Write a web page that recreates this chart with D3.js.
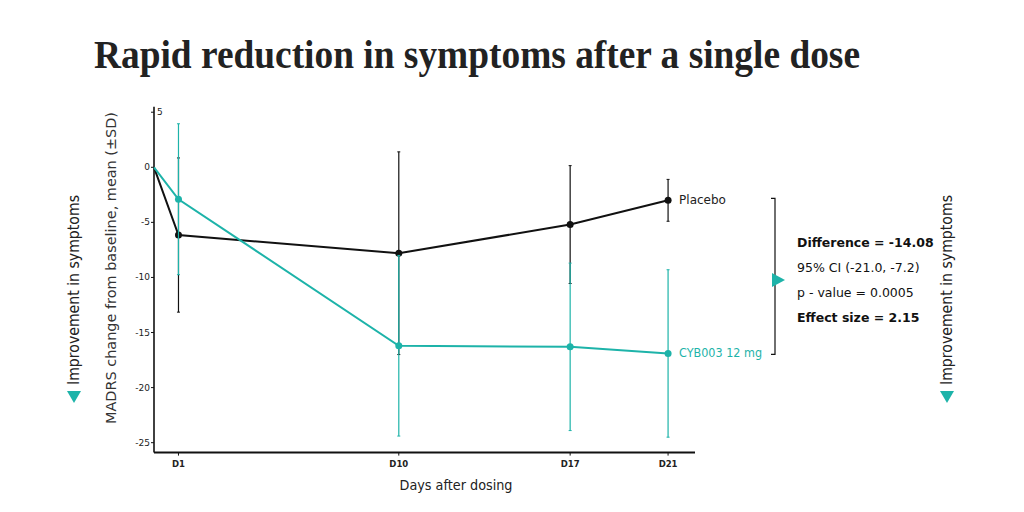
<!DOCTYPE html>
<html>
<head>
<meta charset="utf-8">
<script src="https://cdn.jsdelivr.net/npm/d3@7"></script>
<style>
  body { margin: 0; background: #fff; }
  text { font-family: "DejaVu Sans", "Noto Sans", sans-serif; }
</style>
</head>
<body>
<div id="viz"></div>
<script>
// data
let days = [0, 1, 10, 17, 21]
let dayLabels = ["", "D1", "D10", "D17", "D21"]
let yTicks = [5, 0, -5, -10, -15, -20, -25]

let placeboMean = [0, -6.15, -7.8, -5.2, -3.0]
let placeboSD = [null, 7.0, 9.2, 5.35, 1.9]
let cybMean = [0, -2.9, -16.2, -16.3, -16.9]
let cybSD = [null, 6.85, 8.2, 7.6, 7.6]

let stats = [
  {t: "Difference = -14.08", bold: true},
  {t: "95% CI (-21.0, -7.2)", bold: false},
  {t: "p - value = 0.0005", bold: false},
  {t: "Effect size = 2.15", bold: true}
]

let teal = "#1db3a9"

const svg = d3.select('#viz')
  .append('svg')
  .attr('width', 1024)
  .attr('height', 512)

// title
svg.append('text')
  .attr('x', 94)
  .attr('y', 68)
  .style('font-family', '"Liberation Serif", "DejaVu Serif", serif')
  .attr('font-weight', 'bold')
  .attr('font-size', 40)
  .attr('fill', '#222')
  .attr('textLength', 766)
  .attr('lengthAdjust', 'spacingAndGlyphs')
  .text('Rapid reduction in symptoms after a single dose')

let xScale = d3.scaleLinear().domain([0, 22.1]).range([154, 695])
let yScale = d3.scaleLinear().domain([-25.9, 5.5]).range([452.6, 106.7])

// axes
svg.append('line')
  .attr('x1', xScale(0)).attr('x2', xScale(0))
  .attr('y1', yScale(5.5)).attr('y2', yScale(-25.9))
  .attr('stroke', '#111').attr('stroke-width', 1.6)
svg.append('line')
  .attr('x1', xScale(0)).attr('x2', xScale(22.1))
  .attr('y1', yScale(-25.9)).attr('y2', yScale(-25.9))
  .attr('stroke', '#111').attr('stroke-width', 2)

let yt = svg.append('g')
yt.selectAll('line')
  .data(yTicks)
  .join('line')
  .attr('x1', xScale(0) - 3).attr('x2', xScale(0))
  .attr('y1', d => yScale(d)).attr('y2', d => yScale(d))
  .attr('stroke', '#111').attr('stroke-width', 1)
yt.selectAll('text')
  .data(yTicks)
  .join('text')
  .attr('x', d => d == 5 ? xScale(0) + 3 : xScale(0) - 4)
  .attr('y', d => yScale(d) + 3)
  .attr('text-anchor', d => d == 5 ? 'start' : 'end')
  .attr('font-size', 9)
  .attr('fill', '#222')
  .text(d => d)

let xt = svg.append('g')
xt.selectAll('line')
  .data(days.slice(1))
  .join('line')
  .attr('x1', d => xScale(d)).attr('x2', d => xScale(d))
  .attr('y1', yScale(-25.9)).attr('y2', yScale(-25.9) + 3)
  .attr('stroke', '#111').attr('stroke-width', 1)
xt.selectAll('text')
  .data(days.slice(1))
  .join('text')
  .attr('x', d => xScale(d))
  .attr('y', yScale(-25.9) + 14)
  .attr('text-anchor', 'middle')
  .attr('font-size', 8.5)
  .attr('font-weight', 'bold')
  .attr('fill', '#222')
  .text((d, i) => dayLabels[i + 1])

// axis titles
svg.append('text')
  .attr('x', 456).attr('y', 490)
  .attr('text-anchor', 'middle')
  .attr('font-size', 13.5)
  .attr('fill', '#222')
  .attr('textLength', 113)
  .attr('lengthAdjust', 'spacingAndGlyphs')
  .text('Days after dosing')
svg.append('text')
  .attr('transform', 'translate(116,268) rotate(-90)')
  .attr('text-anchor', 'middle')
  .attr('font-size', 14.5)
  .attr('fill', '#333')
  .attr('textLength', 312)
  .attr('lengthAdjust', 'spacingAndGlyphs')
  .text('MADRS change from baseline, mean (\u00b1SD)')

// improvement labels + arrows
function improvement(x) {
  svg.append('text')
    .attr('transform', `translate(${x + 5},290) rotate(-90)`)
    .attr('text-anchor', 'middle')
    .attr('font-size', 15)
    .attr('fill', '#222')
    .attr('textLength', 190)
    .attr('lengthAdjust', 'spacingAndGlyphs')
    .text('Improvement in symptoms')
  svg.append('path')
    .attr('d', `M${x - 7},391 L${x + 7},391 L${x},403 Z`)
    .attr('fill', teal)
}
improvement(74)
improvement(947)

// series
function series(mean, sd, color) {
  let g = svg.append('g')
  let pts = days.map((d, i) => ({d: d, m: mean[i], s: sd[i]}))
  let eb = pts.filter(p => p.s != null)
  g.selectAll('line.err')
    .data(eb)
    .join('line')
    .attr('class', 'err')
    .attr('x1', p => xScale(p.d)).attr('x2', p => xScale(p.d))
    .attr('y1', p => yScale(p.m + p.s)).attr('y2', p => yScale(p.m - p.s))
    .attr('stroke', color).attr('stroke-width', 1.2)
  g.selectAll('line.capT')
    .data(eb)
    .join('line')
    .attr('class', 'capT')
    .attr('x1', p => xScale(p.d) - 1.5).attr('x2', p => xScale(p.d) + 1.5)
    .attr('y1', p => yScale(p.m + p.s)).attr('y2', p => yScale(p.m + p.s))
    .attr('stroke', color).attr('stroke-width', 1)
  g.selectAll('line.capB')
    .data(eb)
    .join('line')
    .attr('class', 'capB')
    .attr('x1', p => xScale(p.d) - 1.5).attr('x2', p => xScale(p.d) + 1.5)
    .attr('y1', p => yScale(p.m - p.s)).attr('y2', p => yScale(p.m - p.s))
    .attr('stroke', color).attr('stroke-width', 1)
  g.append('path')
    .datum(pts)
    .attr('fill', 'none')
    .attr('stroke', color)
    .attr('stroke-width', 2)
    .attr('d', d3.line().x(p => xScale(p.d)).y(p => yScale(p.m)))
  g.selectAll('circle')
    .data(pts.slice(1))
    .join('circle')
    .attr('cx', p => xScale(p.d))
    .attr('cy', p => yScale(p.m))
    .attr('r', 3.5)
    .attr('fill', color)
  return pts
}
let pPts = series(placeboMean, placeboSD, '#111')
let cPts = series(cybMean, cybSD, teal)

let lastP = pPts[pPts.length - 1]
let lastC = cPts[cPts.length - 1]
svg.append('text')
  .attr('x', xScale(lastP.d) + 11).attr('y', yScale(lastP.m) + 4)
  .attr('font-size', 12).attr('fill', '#222')
  .text('Placebo')
svg.append('text')
  .attr('x', xScale(lastC.d) + 11).attr('y', yScale(lastC.m) + 4)
  .attr('font-size', 12).attr('fill', teal)
  .attr('textLength', 83)
  .attr('lengthAdjust', 'spacingAndGlyphs')
  .text('CYB003 12 mg')

// bracket between the two end points
let bx = 775
let by1 = yScale(lastP.m) - 2
let by2 = yScale(lastC.m) + 1
svg.append('path')
  .attr('d', `M${bx - 4},${by1} L${bx},${by1} L${bx},${by2} L${bx - 4},${by2}`)
  .attr('fill', 'none')
  .attr('stroke', '#111')
  .attr('stroke-width', 1.2)
svg.append('path')
  .attr('d', `M${bx - 3},273 L${bx + 10},280 L${bx - 3},287 Z`)
  .attr('fill', teal)

svg.append('g')
  .selectAll('text')
  .data(stats)
  .join('text')
  .attr('x', 797)
  .attr('y', (d, i) => 247 + i * 25)
  .attr('font-size', 12.5)
  .attr('font-weight', d => d.bold ? 'bold' : 'normal')
  .attr('fill', '#111')
  .text(d => d.t)
</script>
</body>
</html>
